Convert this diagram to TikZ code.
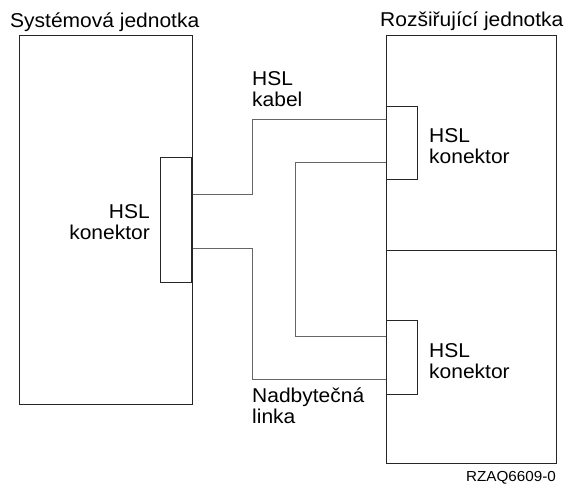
\documentclass[tikz,border=0pt]{standalone}
\usepackage{fontspec}
\setmainfont{Liberation Sans}[FakeStretch=1.05]
\begin{document}
\begin{tikzpicture}[x=1pt,y=-1pt,
  unitbox/.style={draw=black!85,line width=1.1pt,minimum width=#1,inner sep=0pt,anchor=north west},
  hslconn/.style={draw=black!85,fill=white,line width=1pt,minimum width=31pt,inner sep=0pt,anchor=north west},
  cable/.style={draw=black!60,line width=1pt},
  lbl/.style={inner sep=0pt,font=\fontsize{20}{21}\selectfont},
  small/.style={inner sep=0pt,font=\fontsize{14.5}{16}\selectfont}]
\useasboundingbox (0,0) rectangle (566,484);
% units
\node[unitbox=173pt,minimum height=369pt] (sys) at (19,35) {};
\node[unitbox=170pt,minimum height=215pt] (exp1) at (386,35) {};
\node[unitbox=170pt,minimum height=213pt] (exp2) at (386,250) {};
% cable bends
\coordinate (k1) at (252,120);
\coordinate (k2) at (252,380);
\coordinate (k3) at (295,337);
% connectors
\node[hslconn,minimum height=125pt] (lc) at (160,157) {};
\node[hslconn,minimum height=73pt] (uc) at (386,106) {};
\node[hslconn,minimum height=74pt] (dc) at (386,320) {};
\draw[cable] (lc.east |- {(0,195)}) -| (k1) -- (uc.west |- k1);
\draw[cable] (lc.east |- {(0,249)}) -| (k2) -- (dc.west |- k2);
\draw[cable] (uc.west |- {(0,163)}) -| (k3) -- (dc.west |- k3);
\draw[draw=black!85,line width=1.4pt] (lc.north east) -- (lc.south east);
% labels
\node[lbl,anchor=base west] (t1) at (10,28) {Systémová jednotka};
\node[lbl,anchor=base west] (t2) at (380,27) {Rozšiřující jednotka};
\node[lbl,anchor=base west,align=left] (t3) at (252,107) {HSL\\kabel};
\node[lbl,anchor=base east,align=right] (t4) at (150,240) {HSL\\konektor};
\node[lbl,anchor=base west,align=left] (t5) at (429,164) {HSL\\konektor};
\node[lbl,anchor=base west,align=left] (t6) at (429,379) {HSL\\konektor};
\node[lbl,anchor=base west,align=left] (t7) at (252,424) {Nadbytečná\\linka};
\node[small,anchor=base east] (t8) at (556,482) {RZAQ6609-0};
\end{tikzpicture}
\end{document}
